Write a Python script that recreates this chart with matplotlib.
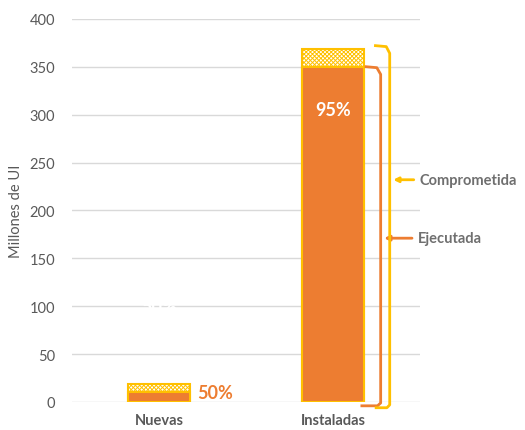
import matplotlib.pyplot as plt
import matplotlib.transforms as mtransforms

categories = ['Nuevas', 'Instaladas']
comprometida = [19, 368]
ejecutada = [10, 350]
pct_labels = ['50%', '95%']

ORANGE = '#ED7D31'
GOLD = '#FFC000'
GRAY = '#595959'

plt.rcParams['font.family'] = ['Lato', 'DejaVu Sans']
plt.rcParams['hatch.linewidth'] = 0.7

fig = plt.figure(figsize=(5.25, 4.31), dpi=100)
ax = fig.add_axes([0.137, 0.065, 0.663, 0.889])

x = range(len(categories))
ax.bar(x, comprometida, width=0.36, color='white', edgecolor=GOLD,
       hatch='xxxxxxxx', linewidth=1.5, zorder=2)
ax.bar(x, ejecutada, width=0.36, color=ORANGE, edgecolor=GOLD,
       linewidth=1.5, zorder=3)

ax.set_xlim(-0.5, 1.5)
ax.set_ylim(0, 400)
ax.set_yticks(range(0, 401, 50))
ax.set_xticks(list(x))
ax.set_xticklabels(categories, fontsize=10.5, fontweight='bold', color=GRAY)
ax.tick_params(axis='y', labelsize=10.5, labelcolor=GRAY, length=0, pad=12)
ax.tick_params(axis='x', length=0, pad=8)
ax.set_ylabel('Millones de UI', fontsize=10.5, color=GRAY, labelpad=5)
ax.yaxis.grid(True, color='#D9D9D9', linewidth=1, zorder=0)
ax.set_axisbelow(True)
for s in ax.spines.values():
    s.set_visible(False)

# percentage labels
ax.text(0.32, 1, pct_labels[0], color=ORANGE, fontsize=13, fontweight='bold',
        ha='center', va='bottom', zorder=5)
ax.text(0, 100, pct_labels[0], color='white', fontsize=13, fontweight='bold',
        ha='center', va='center', zorder=5)
ax.text(1, 305, pct_labels[1], color='white', fontsize=13, fontweight='bold',
        ha='center', va='center', zorder=5)

# brackets (x in axes fraction, y in data)
tr = mtransforms.blended_transform_factory(ax.transAxes, ax.transData)
ax.plot([0.845, 0.876, 0.887, 0.887, 0.878, 0.833],
        [ejecutada[1], ejecutada[1] - 1, ejecutada[1] - 8, -1, -4, -4],
        color=ORANGE, linewidth=2, transform=tr, clip_on=False, zorder=4)
ax.plot([0.872, 0.903, 0.913, 0.913, 0.905, 0.874],
        [comprometida[1] + 4, comprometida[1] + 3, comprometida[1] - 4, -3, -6, -6],
        color=GOLD, linewidth=2, transform=tr, clip_on=False, zorder=4)

ax.annotate('', xy=(0.889, 171), xytext=(0.985, 171), xycoords=tr, textcoords=tr,
            arrowprops=dict(arrowstyle='-|>', color=ORANGE, lw=2, mutation_scale=7),
            annotation_clip=False)
ax.annotate('', xy=(0.915, 232), xytext=(0.99, 232), xycoords=tr, textcoords=tr,
            arrowprops=dict(arrowstyle='-|>', color=GOLD, lw=2, mutation_scale=7),
            annotation_clip=False)
ax.text(0.995, 171, 'Ejecutada', transform=tr, fontsize=10.5, fontweight='bold',
        color='#6F6F6F', va='center', ha='left')
ax.text(1.0, 232, 'Comprometida', transform=tr, fontsize=10.5, fontweight='bold',
        color='#6F6F6F', va='center', ha='left')

fig.savefig('out.png', dpi=100)
